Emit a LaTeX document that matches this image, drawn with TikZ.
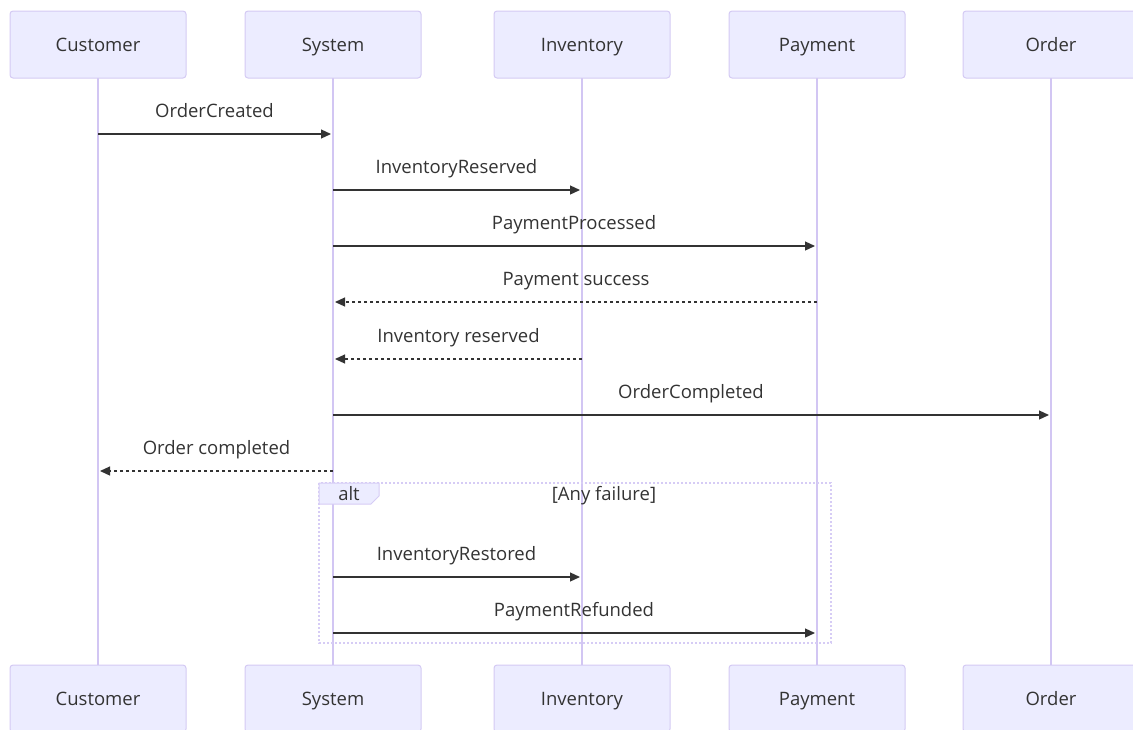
\documentclass[tikz,border=0pt]{standalone}
\usepackage{fontspec}
\setmainfont{Open Sans}
\usetikzlibrary{arrows.meta}
\definecolor{actfill}{HTML}{ECECFF}
\definecolor{actline}{HTML}{D4CAF3}
\definecolor{lifeln}{HTML}{D2C6F3}
\definecolor{msg}{HTML}{333333}
\definecolor{altln}{HTML}{D6CCF5}
\tikzset{
  actor/.style={draw=actline, line width=1pt, fill=actfill, rounded corners=3pt, minimum width=176pt, minimum height=67pt, inner sep=0pt, text=msg, font=\fontsize{18.5}{20}\selectfont, text height=14pt, text depth=0pt},
  life/.style={draw=lifeln, line width=1.2pt},
  msgarrow/.style={draw=msg, line width=1.2pt, -{Triangle[length=10pt,width=9pt]}},
  reply/.style={msgarrow, dash pattern=on 3pt off 3pt},
  lbl/.style={text=msg, font=\fontsize{18.5}{20}\selectfont, inner sep=0pt, anchor=base},
}
\begin{document}
\begin{tikzpicture}[x=1pt,y=-1pt]
\useasboundingbox (0,0) rectangle (1133,729);
\begin{scope}
\clip (0,0) rectangle (1133,729);
% lifelines
\foreach \n/\x in {cu/98,sy/333,in/582,pa/817,or/1051}{
  \coordinate (\n t) at (\x,78);
  \coordinate (\n b) at (\x,665);
  \draw[life] (\n t) -- (\n b);
}
% actors
\node[actor] (cuT) at (98,44.5) {Customer};
\node[actor] (syT) at (333,44.5) {System};
\node[actor] (inT) at (582,44.5) {Inventory};
\node[actor] (paT) at (817,44.5) {Payment};
\node[actor] (orT) at (1051,44.5) {Order};
\node[actor] (cuB) at (98,698.5) {Customer};
\node[actor] (syB) at (333,698.5) {System};
\node[actor] (inB) at (582,698.5) {Inventory};
\node[actor] (paB) at (817,698.5) {Payment};
\node[actor] (orB) at (1051,698.5) {Order};
% alt frame
\draw[altln, line width=1.2pt, dash pattern=on 2pt off 2pt] (319,483) rectangle (831,643);
\draw[altln, fill=actfill, line width=1pt] (319,483) -- (379,483) -- (379,496) -- (371,504) -- (319,504) -- cycle;
\node[lbl] (altlbl) at (349,500.5) {alt};
\node[lbl] (cond) at (604,500.5) {[Any failure]};
% messages
\foreach \n/\a/\b/\y/\t/\s in {
  m1/98/331/134/OrderCreated/msgarrow,
  m2/333/580/190/InventoryReserved/msgarrow,
  m3/333/815/246/PaymentProcessed/msgarrow,
  m4/817/335/302/Payment success/reply,
  m5/582/335/359/Inventory reserved/reply,
  m6/333/1049/415/OrderCompleted/msgarrow,
  m7/333/100/471/Order completed/reply,
  m8/333/580/577/InventoryRestored/msgarrow,
  m9/333/815/633/PaymentRefunded/msgarrow}{
  \coordinate (\n a) at (\a,\y);
  \coordinate (\n b) at (\b,\y);
  \draw[\s] (\n a) -- (\n b);
  \node[lbl] (\n l) at ({(\a+\b)/2},\y-17) {\t};
}
\end{scope}
\end{tikzpicture}
\end{document}
